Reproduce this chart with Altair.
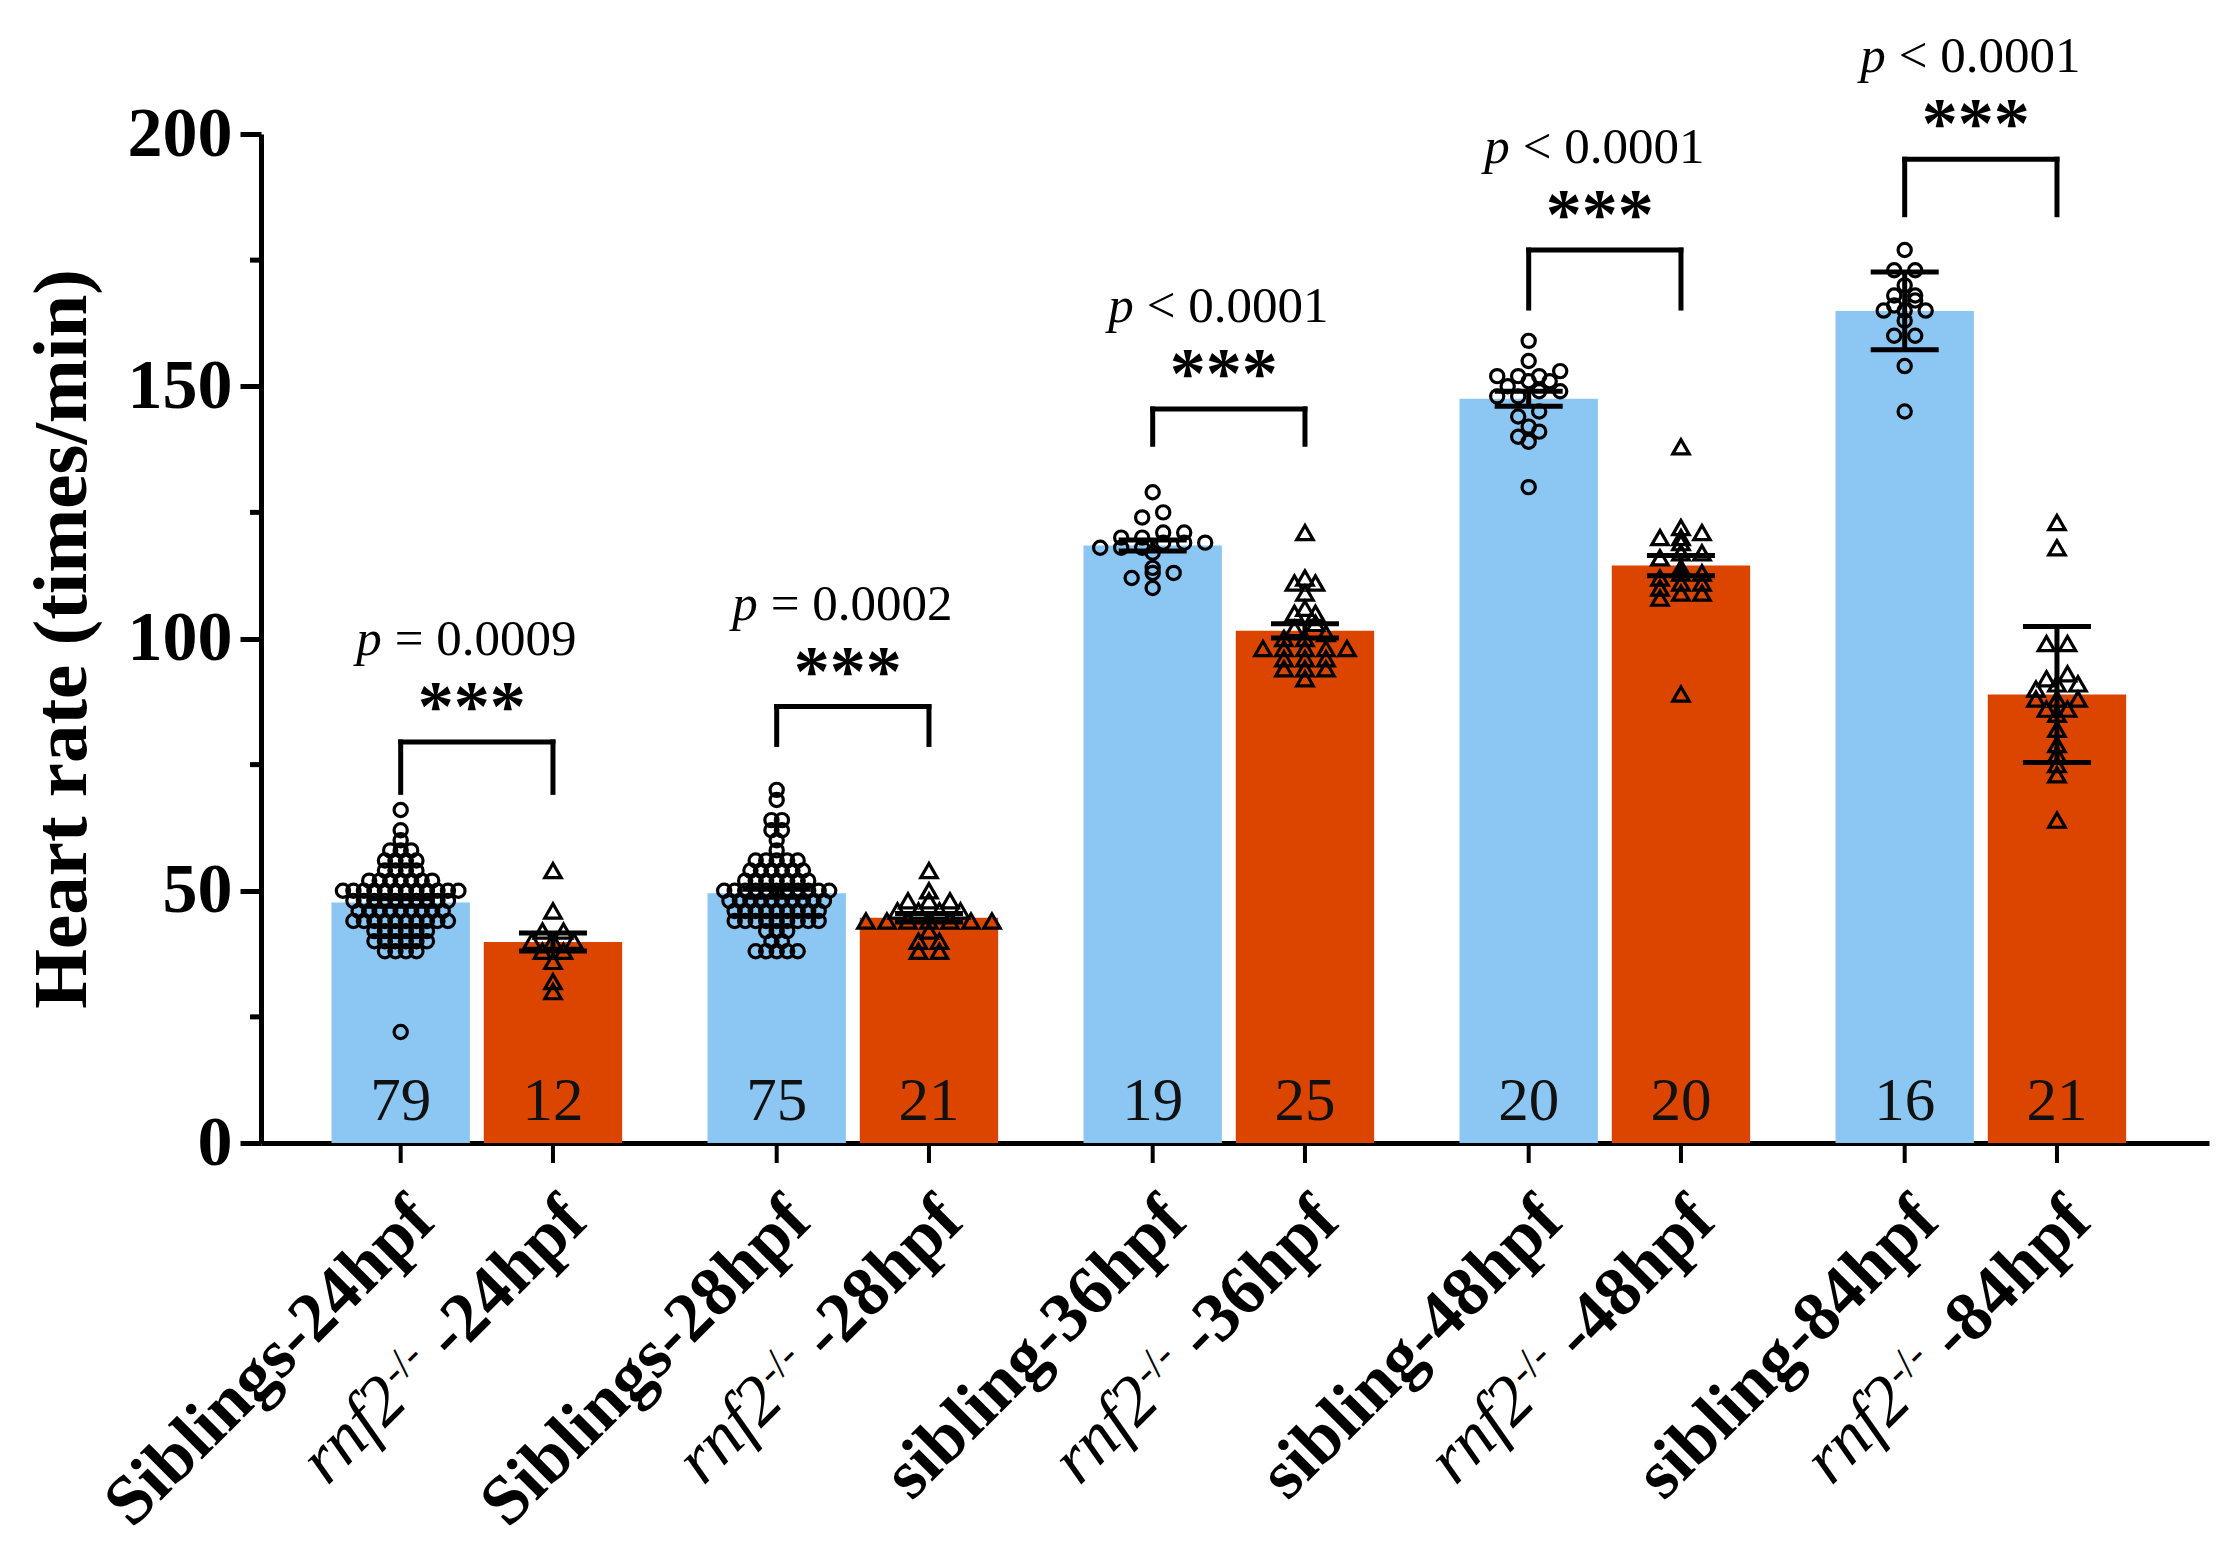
import math

import altair as alt
import pandas as pd

FONT = "Liberation Serif"
BLUE = "#8CC6F2"
ORANGE = "#DB4500"

# categories and annotations
timepoints = ["24hpf", "28hpf", "36hpf", "48hpf", "84hpf"]
sibling_names = ["Siblings", "Siblings", "sibling", "sibling", "sibling"]
mutant_gene = "rnf2"
mutant_sup = "-/-"
error_kind = ["SEM", "SEM", "SEM", "SEM", "SD"]
p_texts = ["= 0.0009", "= 0.0002", "< 0.0001", "< 0.0001", "< 0.0001"]
star_texts = ["***", "***", "***", "***", "***"]
bracket_top = [79.5, 86.5, 145.5, 177, 195]
bracket_bottom = [69.5, 79, 138.5, 165.5, 184]
y_ticks = [0, 50, 100, 150, 200]
y_minor_ticks = [25, 75, 125, 175]

# heart rate of each embryo (times/min)
sib_24 = [
    66, 62, 60, 58, 58, 58, 56, 56, 56, 56, 54, 54, 54, 54,
    52, 52, 52, 52, 52, 52, 52,
    50, 50, 50, 50, 50, 50, 50, 50, 50, 50, 50, 50,
    48, 48, 48, 48, 48, 48, 48, 48, 48, 48,
    46, 46, 46, 46, 46, 46, 46, 46, 46,
    44, 44, 44, 44, 44, 44, 44, 44, 44, 44,
    42, 42, 42, 42, 42, 42,
    40, 40, 40, 40, 40, 40,
    38, 38, 38, 38, 22,
]
rnf_24 = [54, 46, 42, 42, 40, 40, 40, 38, 38, 36, 32, 30]
sib_28 = [
    70, 68, 64, 64, 62, 62, 60, 58,
    56, 56, 56, 56, 56,
    54, 54, 54, 54, 54, 54,
    52, 52, 52, 52, 52, 52, 52,
    50, 50, 50, 50, 50, 50, 50, 50, 50, 50, 50,
    48, 48, 48, 48, 48, 48, 48, 48, 48, 48,
    46, 46, 46, 46, 46, 46, 46, 46, 46,
    44, 44, 44, 44, 44, 44, 44, 44, 44,
    42, 42, 42, 40, 40,
    38, 38, 38, 38, 38,
]
rnf_28 = [54, 50, 48, 48, 48, 46, 46, 46, 46, 44, 44, 44, 44, 44, 44, 44, 42, 40, 40, 38, 38]
sib_36 = [129, 125, 124, 121, 121, 120, 120, 119, 119, 119, 118, 118, 118, 117, 114, 113, 113, 112, 110]
rnf_36 = [121, 112, 111, 111, 109, 106, 105, 105, 103, 102, 101, 100, 100,
          98, 98, 98, 98, 98, 96, 96, 96, 94, 94, 94, 92]
sib_48 = [159, 155, 152, 152, 153, 151, 151, 152, 150, 149, 148, 148, 149, 144, 145, 142, 140, 141, 139, 130]
rnf_48 = [138, 121, 122, 120, 119, 120, 117, 116, 117, 113, 114, 112, 113, 110, 111, 111, 108, 109, 109, 89]
sib_84 = [177, 173, 173, 170, 168, 168, 167, 166, 165, 165, 165, 163, 160, 160, 154, 145]
rnf_84 = [123, 118, 99, 99, 93, 92, 91, 91, 90, 88, 88, 88, 86, 86, 85, 82, 79, 77, 75, 73, 64]

sibling_values = [sib_24, sib_28, sib_36, sib_48, sib_84]
mutant_values = [rnf_24, rnf_28, rnf_36, rnf_48, rnf_84]

# layout (x in "group" units, STEP pixels per unit)
WIDTH, HEIGHT = 1948, 1009
STEP = 376
FIRST = 0.574
PAIR = 0.405
HALF_BAR = 0.184
CAP = 34 / STEP
DENSE_GAP, SPARSE_GAP = 10.5, 21
POS_EXPR = f"{FIRST} + datum.gi + (datum.geno == 'sib' ? -1 : 1) * {PAIR / 2}"

rows = []
for gi in range(len(timepoints)):
    for geno, vals in (("sib", sibling_values[gi]), ("rnf", mutant_values[gi])):
        for v in vals:
            rows.append({"gi": gi, "geno": geno, "err": error_kind[gi], "value": v})
points = pd.DataFrame(rows)

labels = pd.DataFrame(
    [{"gi": gi, "geno": "sib", "text": f"{sibling_names[gi]}-{t}"} for gi, t in enumerate(timepoints)]
    + [{"gi": gi, "geno": "rnf", "text": f"-{t}"} for gi, t in enumerate(timepoints)]
)
brackets = pd.DataFrame({
    "gi": list(range(len(timepoints))),
    "top": bracket_top,
    "bottom": bracket_bottom,
    "p": p_texts,
    "stars": star_texts,
})
minor = pd.DataFrame({"v": y_minor_ticks})

x_scale = alt.Scale(domain=[0, WIDTH / STEP], nice=False, zero=False)
y_scale = alt.Scale(domain=[0, 200], nice=False)

x_axis = alt.Axis(labels=False, ticks=False, grid=False, title=None,
                  domainColor="black", domainWidth=5)
y_axis = alt.Axis(
    values=y_ticks, title="Heart rate (times/min)", grid=False,
    domainColor="black", domainWidth=5, tickColor="black", tickWidth=5, tickSize=21,
    labelFont=FONT, labelFontSize=70, labelFontWeight="bold", labelColor="black",
    labelPadding=8, labelFlush=False,
    titleFont=FONT, titleFontSize=77, titleFontWeight="bold", titleColor="black",
    titlePadding=26,
)


def X(field):
    return alt.X(field, scale=x_scale, axis=x_axis)


def Y(field):
    return alt.Y(field, scale=y_scale, axis=y_axis)


Y0 = alt.Y(datum=0, scale=y_scale, axis=y_axis)

summary = (
    alt.Chart(points)
    .transform_calculate(pos=POS_EXPR)
    .transform_aggregate(mean="mean(value)", sd="stdev(value)", se="stderr(value)",
                         n="count()", groupby=["gi", "geno", "err", "pos"])
    .transform_calculate(e="datum.err == 'SD' ? datum.sd : datum.se")
    .transform_calculate(
        xl=f"datum.pos - {HALF_BAR}", xr=f"datum.pos + {HALF_BAR}",
        cl=f"datum.pos - {CAP}", cr=f"datum.pos + {CAP}",
        lo="datum.mean - datum.e", hi="datum.mean + datum.e",
    )
)

bars = summary.mark_bar().encode(
    x=X("xl:Q"), x2="xr:Q",
    y=Y("mean:Q"), y2=alt.datum(0),
    color=alt.Color("geno:N", scale=alt.Scale(domain=["sib", "rnf"], range=[BLUE, ORANGE]), legend=None),
)

dots = (
    alt.Chart(points)
    .transform_calculate(pos=POS_EXPR, vbin="floor(datum.value / 2)")
    .transform_window(r="row_number()", groupby=["gi", "geno", "vbin"], sort=[alt.SortField("value")])
    .transform_joinaggregate(nb="count()", groupby=["gi", "geno", "vbin"])
    .transform_joinaggregate(n="count()", groupby=["gi", "geno"])
    .transform_calculate(
        px=f"datum.pos + (datum.r - (datum.nb + 1) / 2) * (datum.n > 50 ? {DENSE_GAP} : {SPARSE_GAP}) / {STEP}"
    )
    .mark_point(filled=False, color="black", strokeWidth=3.2, opacity=1)
    .encode(
        x=X("px:Q"), y=Y("value:Q"),
        shape=alt.Shape("geno:N", scale=alt.Scale(domain=["sib", "rnf"], range=["circle", "triangle-up"]), legend=None),
        size=alt.Size("geno:N", scale=alt.Scale(domain=["sib", "rnf"], range=[175, 270]), legend=None),
    )
)

stem = summary.mark_rule(color="black", strokeWidth=5).encode(x=X("pos:Q"), y=Y("lo:Q"), y2="hi:Q")
cap_lo = summary.mark_rule(color="black", strokeWidth=5).encode(x=X("cl:Q"), x2="cr:Q", y=Y("lo:Q"))
cap_hi = summary.mark_rule(color="black", strokeWidth=5).encode(x=X("cl:Q"), x2="cr:Q", y=Y("hi:Q"))

counts = summary.mark_text(font=FONT, fontSize=61, baseline="alphabetic", dy=-23, color="#111111").encode(
    x=X("pos:Q"), y=Y0, text="n:Q"
)

x_ticks = summary.mark_rule(color="black", strokeWidth=4, y2Offset=20).encode(
    x=X("pos:Q"), y=Y0, y2=alt.datum(0)
)

minor_ticks = alt.Chart(minor).mark_rule(color="black", strokeWidth=5).encode(
    x=alt.value(-11), x2=alt.value(0), y=Y("v:Q")
)

brk = alt.Chart(brackets).transform_calculate(
    xl=f"{FIRST} + datum.gi - {PAIR / 2}",
    xr=f"{FIRST} + datum.gi + {PAIR / 2}",
    xm=f"{FIRST} + datum.gi",
)
brk_top = brk.mark_rule(color="black", strokeWidth=5, strokeCap="square").encode(
    x=X("xl:Q"), x2="xr:Q", y=Y("top:Q"))
brk_left = brk.mark_rule(color="black", strokeWidth=5, strokeCap="square").encode(
    x=X("xl:Q"), y=Y("bottom:Q"), y2="top:Q")
brk_right = brk.mark_rule(color="black", strokeWidth=5, strokeCap="square").encode(
    x=X("xr:Q"), y=Y("bottom:Q"), y2="top:Q")
stars = brk.mark_text(font=FONT, fontSize=72, fontWeight="bold", baseline="alphabetic",
                      dy=-12, dx=-5, color="black").encode(x=X("xm:Q"), y=Y("top:Q"), text="stars:N")
p_letter = brk.mark_text(font=FONT, fontSize=51, fontStyle="italic", align="right", baseline="alphabetic",
                         dy=-87, dx=-95, color="black").encode(x=X("xm:Q"), y=Y("top:Q"), text=alt.value("p"))
p_rest = brk.mark_text(font=FONT, fontSize=51, align="left", baseline="alphabetic",
                       dy=-87, dx=-82, color="black").encode(x=X("xm:Q"), y=Y("top:Q"), text="p:N")

# rotated tick labels: dx/dy act in the rotated frame
AX, AY = -2, 42
DX0 = (AX - AY) / math.sqrt(2)
DY0 = (AX + AY) / math.sqrt(2)
LABEL_SIZE = 70
SUP_SIZE = 43
w_bold = 2.778 * LABEL_SIZE
w_space = 0.25 * LABEL_SIZE
w_sup = 0.944 * SUP_SIZE

lab = alt.Chart(labels).transform_calculate(pos=POS_EXPR)
label_common = dict(angle=315, align="right", baseline="top", font=FONT, color="black", dy=DY0)
lab_main = lab.mark_text(fontSize=LABEL_SIZE, fontWeight="bold", dx=DX0, **label_common).encode(
    x=X("pos:Q"), y=Y0, text="text:N")
lab_sup = lab.transform_filter("datum.geno == 'rnf'").mark_text(
    fontSize=SUP_SIZE, dx=DX0 - w_bold - w_space, **label_common).encode(
    x=X("pos:Q"), y=Y0, text=alt.value(mutant_sup))
lab_gene = lab.transform_filter("datum.geno == 'rnf'").mark_text(
    fontSize=LABEL_SIZE, fontStyle="italic", dx=DX0 - w_bold - w_space - w_sup - 2, **label_common).encode(
    x=X("pos:Q"), y=Y0, text=alt.value(mutant_gene))

chart = (
    alt.layer(
        bars, dots, stem, cap_lo, cap_hi, counts, x_ticks, minor_ticks,
        brk_top, brk_left, brk_right, stars, p_letter, p_rest,
        lab_main, lab_sup, lab_gene,
    )
    .properties(
        width=WIDTH, height=HEIGHT,
        autosize=alt.AutoSizeParams(type="none"),
        padding={"left": 253, "top": 126, "right": 10, "bottom": 405},
    )
    .configure_view(stroke=None)
)

chart.save("out.html", embed_options={"renderer": "svg", "actions": False})
